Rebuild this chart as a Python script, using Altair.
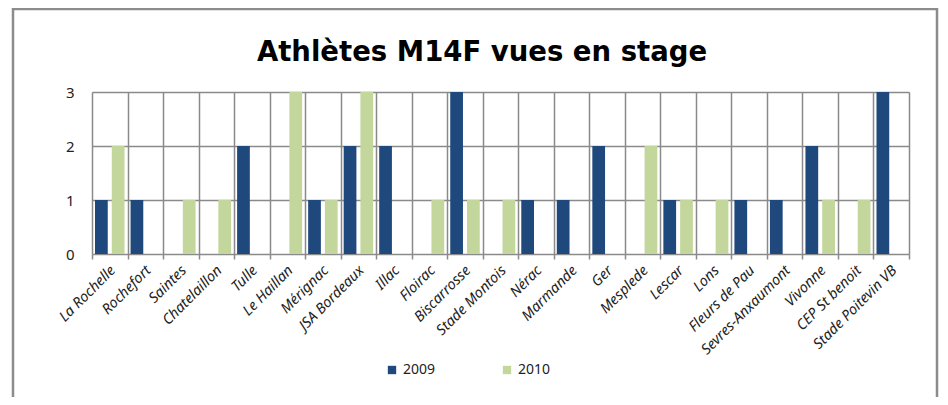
import altair as alt
import pandas as pd

title_text = "Athlètes M14F vues en stage"
clubs = ["La Rochelle", "Rochefort", "Saintes", "Chatelaillon", "Tulle", "Le Haillan",
         "Mérignac", "JSA Bordeaux", "Illac", "Floirac", "Biscarrosse", "Stade Montois",
         "Nérac", "Marmande", "Ger", "Mesplede", "Lescar", "Lons", "Fleurs de Pau",
         "Sevres-Anxaumont", "Vivonne", "CEP St benoit", "Stade Poitevin VB"]
v2009 = [1, 1, 0, 0, 2, 0, 1, 2, 2, 0, 3, 0, 1, 1, 2, 0, 1, 0, 1, 1, 2, 0, 3]
v2010 = [2, 0, 1, 1, 0, 3, 1, 3, 0, 1, 1, 1, 0, 0, 0, 2, 1, 1, 0, 0, 1, 1, 0]
years = ["2009", "2010"]
colors = ["#1F497D", "#C3D69B"]

rows = []
for c, a, b in zip(clubs, v2009, v2010):
    rows.append({"club": c, "year": years[0], "value": a})
    rows.append({"club": c, "year": years[1], "value": b})
df = pd.DataFrame(rows)

W, H = 817, 162

one = pd.DataFrame({"k": [0]})

frame = alt.Chart(one).mark_rect(
    fill=None, stroke="#8c8c8c", strokeWidth=2.5
).encode(
    x=alt.value(-79), x2=alt.value(845), y=alt.value(-83), y2=alt.value(400)
)

title = alt.Chart(one).mark_text(
    font="DejaVu Sans", fontSize=27.5, fontWeight="bold", color="#000",
    align="center", baseline="alphabetic"
).encode(
    x=alt.value(390), y=alt.value(-31), text=alt.value(title_text)
)

bars = alt.Chart(df).mark_bar().encode(
    x=alt.X("club:N", sort=clubs, title=None,
            scale=alt.Scale(paddingInner=0, paddingOuter=0),
            axis=alt.Axis(labelAngle=-45, labelAlign="right", labelBaseline="middle",
                          tickBand="extent", grid=True, gridColor="#8a8a8a",
                          gridWidth=1.5, gridOpacity=1, domain=False,
                          tickColor="#8a8a8a", tickSize=5, tickWidth=1.5,
                          labelFont="Noto Sans", labelFontStyle="italic",
                          labelFontSize=14.5, labelColor="#222", labelPadding=9,
                          labelOffset=3, labelLimit=200)),
    xOffset=alt.XOffset("year:N", scale=alt.Scale(paddingInner=0.24, paddingOuter=0.18)),
    y=alt.Y("value:Q", title=None,
            scale=alt.Scale(domain=[0, 3], nice=False),
            axis=alt.Axis(values=[0, 1, 2, 3], format="d", grid=True,
                          gridColor="#8a8a8a", gridWidth=1.5, ticks=False,
                          domain=False, labelPadding=18, labelFont="Noto Sans",
                          labelFontSize=15, labelColor="#222")),
    color=alt.Color("year:N", scale=alt.Scale(domain=years, range=colors),
                    legend=alt.Legend(title=None, orient="none", legendX=293,
                                      legendY=271, direction="horizontal",
                                      symbolType="square", symbolSize=70,
                                      columnPadding=64, labelFont="Noto Sans",
                                      labelFontSize=14, labelColor="#222",
                                      symbolStrokeWidth=0)),
)

chart = alt.layer(frame, bars, title).properties(
    width=W, height=H,
    autosize=alt.AutoSizeParams(type="none"),
    padding={"left": 84, "top": 84, "right": 31, "bottom": 143},
).configure_view(
    stroke="#8a8a8a", strokeWidth=1.5
).configure(background="white")

chart.save("out.html", embed_options={"renderer": "svg", "actions": False})
